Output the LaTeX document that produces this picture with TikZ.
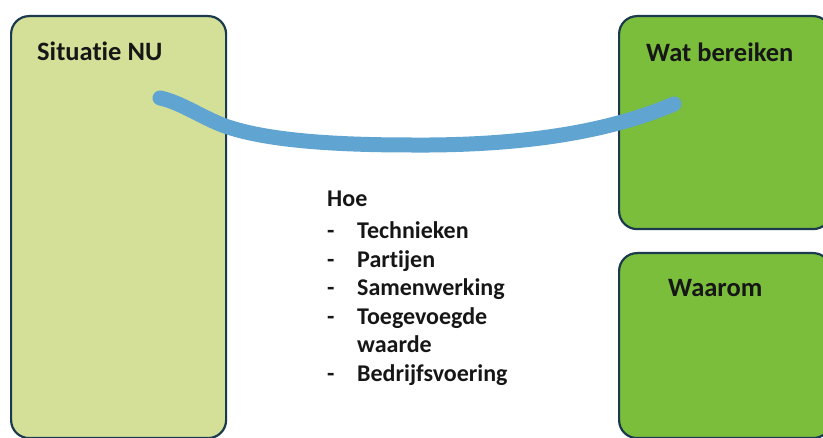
\documentclass[tikz,border=0pt]{standalone}
\usepackage{fontspec}
\setmainfont{Carlito}[Ligatures=NoCommon]
\usepackage{tikz}
\usepackage{xcolor}
\usetikzlibrary{positioning}

\definecolor{nugreen}{RGB}{212,224,152}
\definecolor{goalgreen}{RGB}{122,190,60}
\definecolor{boxline}{RGB}{28,58,78}
\definecolor{bandblue}{RGB}{96,164,210}
\definecolor{inkblack}{RGB}{22,22,22}

\begin{document}
\begin{tikzpicture}[x=1pt, y=-1pt,
        box/.style={rectangle, rounded corners=18pt, draw=boxline, line width=2.2pt, inner sep=0pt, anchor=north west},
        title/.style={inner sep=0pt, anchor=base west, text=inkblack, font=\bfseries\fontsize{26.5}{30}\selectfont},
        item/.style={inner sep=0pt, anchor=base west, text=inkblack, font=\bfseries\fontsize{24}{28}\selectfont},
        band/.style={draw=bandblue, line width=15pt, line cap=round}]

        \useasboundingbox (0,0) rectangle (823,438);

        % boxes
        \node[box, fill=nugreen, minimum width=215pt, minimum height=422pt] (nu) at (10,15) {};
        \node[box, fill=goalgreen, minimum width=212pt, minimum height=213pt] (wat) at (618,15) {};
        \node[box, fill=goalgreen, minimum width=212pt, minimum height=185pt] (waarom) at (618,252) {};

        % titles
        \node[title] (nutitle) at (37,61) {Situatie NU};
        \node[title] (wattitle) at (646,62) {Wat bereiken};
        \node[title] (waaromtitle) at (668,297) {Waarom};

        % list
        \node[item] (hoe) at (327,207) {Hoe};
        \foreach \y/\name/\txt in {239/tech/Technieken, 267.5/part/Partijen, 296/samen/Samenwerking, 324.5/toe/Toegevoegde, 381.5/bedr/Bedrijfsvoering} {
            \node[item] (dash-\name) at (327,\y) {-};
            \node[item] (\name) at (357,\y) {\txt};
        }
        \node[item] (waarde) at (357,353) {waarde};

        % band
        \coordinate (from) at (160,98);
        \coordinate (bend) at (225,126);
        \coordinate (mid) at (411,145);
        \coordinate (to) at (674,104);
        \path[band]
        (from) .. controls (180,102) and (203,118) .. (bend)
        .. controls (265,140) and (330,145) .. (mid)
        .. controls (540,146) and (620,127) .. (to);

    \end{tikzpicture}
\end{document}
